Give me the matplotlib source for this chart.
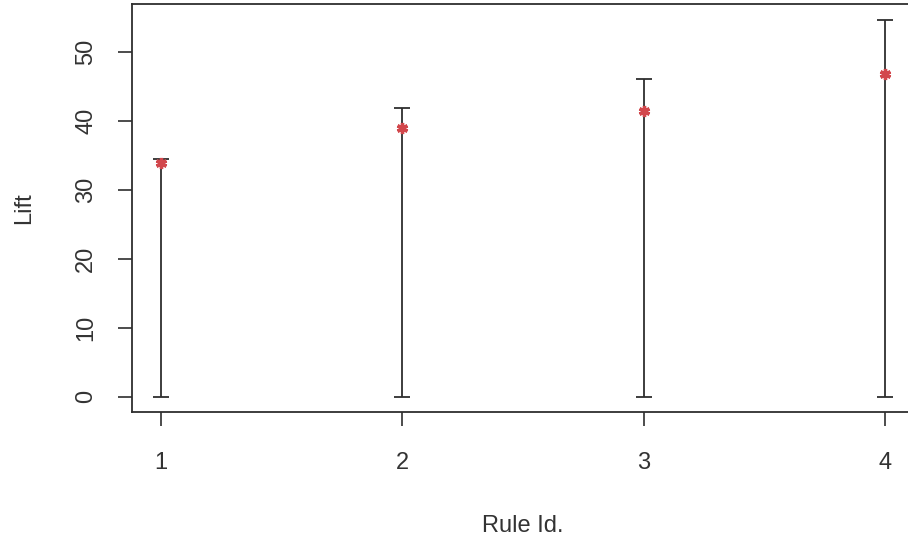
import matplotlib
matplotlib.use("Agg")
import matplotlib.pyplot as plt

# lift per rule: point estimate and interval bounds
rule_ids = [1, 2, 3, 4]
lift = [33.9, 38.9, 41.4, 46.7]
lift_low = [0.0, 0.0, 0.0, 0.0]
lift_high = [34.4, 41.8, 46.1, 54.6]
y_ticks = [0, 10, 20, 30, 40, 50]

plt.rcParams['font.family'] = ['Liberation Sans', 'DejaVu Sans']
ink = '#2e2e2e'

fig = plt.figure(figsize=(9.08, 5.42), dpi=100)
ax = fig.add_axes([132 / 908, 130 / 542, 782 / 908, 408 / 542])

err = [[p - lo for p, lo in zip(lift, lift_low)],
       [hi - p for p, hi in zip(lift, lift_high)]]
ax.errorbar(rule_ids, lift, yerr=err, fmt='none', ecolor=ink,
            elinewidth=1.3, capsize=6, capthick=1.3)
ax.plot(rule_ids, lift, linestyle='none', marker=(6, 2, 0),
        markersize=8, markeredgewidth=2.4, color='#d2474c')

ax.set_xlim(0.88, 4.12)
ax.set_ylim(-2.2, 56.9)
ax.set_xticks(rule_ids)
ax.set_yticks(y_ticks)

for s in ax.spines.values():
    s.set_color(ink)
    s.set_linewidth(1.3)

ax.tick_params(axis='both', colors=ink, labelcolor='#333333', width=1.2,
               length=10, labelsize=17)
ax.tick_params(axis='x', pad=19)
ax.tick_params(axis='y', pad=15, labelrotation=90)
for lab in ax.get_yticklabels():
    lab.set_verticalalignment('center')

ax.set_xlabel('Rule Id.', fontsize=17, color='#333333', labelpad=29)
ax.set_ylabel('Lift', fontsize=17, color='#333333', labelpad=29)

fig.savefig('out.png', dpi=100)
